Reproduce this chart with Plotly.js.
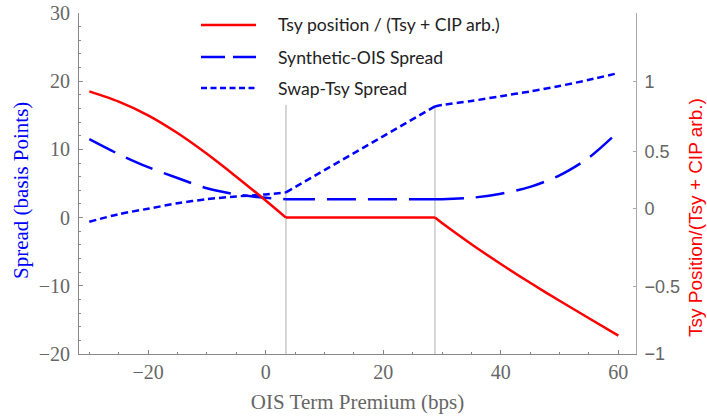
<!DOCTYPE html>
<html><head><meta charset="utf-8">
<script src="https://cdn.plot.ly/plotly-3.0.1.min.js"></script>
<style>html,body{margin:0;padding:0;background:#fff}</style>
</head><body><div id="chart" style="width:707px;height:417px"></div>
<script>
// Series names
const seriesNames = ['Tsy position / (Tsy + CIP arb.)', 'Synthetic-OIS Spread', 'Swap-Tsy Spread'];

// Tsy position / (Tsy + CIP arb.)  (right axis)
const ratioX = [-30, -25, -20, -15, -10, -5, 0, 3.45, 28.8, 30, 35, 40, 45, 50, 55, 60];
const ratioY = [0.925, 0.85, 0.75, 0.62, 0.4675, 0.30, 0.125, 0, 0, -0.04, -0.195, -0.34, -0.478, -0.61, -0.738, -0.865];

// Synthetic-OIS Spread (bps, left axis)
const synthX = [-30, -25, -20, -15, -10, -5, 0, 3.45, 28.8, 30, 35, 40, 45, 50, 55, 60];
const synthY = [11.5, 9.3, 7.4, 5.8, 4.3, 3.4, 2.9, 2.7, 2.7, 2.7, 2.9, 3.5, 4.5, 6.2, 8.8, 12.6];

// Swap-Tsy Spread (bps, left axis)
const swapX = [-30, -25, -20, -15, -10, -5, 0, 3.45, 28.8, 30, 35, 40, 45, 50, 55, 60];
const swapY = [-0.6, 0.5, 1.3, 2.1, 2.7, 3.1, 3.4, 3.7, 16.3, 16.5, 17.1, 17.8, 18.5, 19.3, 20.2, 21.2];

// Regime boundaries (OIS term premium, bps)
const kinkX = [3.45, 28.8];

// Right axis tick labels (as drawn in the source)
const rightTickVals = [-1, -0.505, 0.069, 0.484, 1];
const rightTickText = ['\u22121', '\u22120.5', '0', '0.5', '1'];

const W = 707, H = 417;
const M = {l: 79, r: 71, t: 13, b: 63};
const pw = W - M.l - M.r, ph = H - M.t - M.b;
const px2paperX = p => (p - M.l) / pw;
const px2paperY = p => 1 - (p - M.t) / ph;

// split a series at the regime boundaries so each smooth piece keeps sharp kinks
function splitAtKinks(xs, ys) {
  const segs = [];
  let cur = {x: [], y: []};
  xs.forEach((xv, i) => {
    cur.x.push(xv); cur.y.push(ys[i]);
    if (kinkX.includes(xv) && cur.x.length > 1) {
      segs.push(cur);
      cur = {x: [xv], y: [ys[i]]};
    }
  });
  if (cur.x.length > 1) segs.push(cur);
  return segs;
}

const traces = [];
function addSeries(xs, ys, axis, lineStyle) {
  splitAtKinks(xs, ys).forEach(s => {
    traces.push({x: s.x, y: s.y, mode: 'lines', yaxis: axis, showlegend: false, hoverinfo: 'skip',
      line: Object.assign({shape: s.x.length > 2 ? 'spline' : 'linear', smoothing: 0.8}, lineStyle)});
  });
}
addSeries(synthX, synthY, 'y', {color: '#0000ff', width: 2.5, dash: '29px,12px'});
addSeries(swapX, swapY, 'y', {color: '#0000ff', width: 2.5, dash: '7px,4px'});
addSeries(ratioX, ratioY, 'y2', {color: '#ff0000', width: 2.5});

const legendStyle = [
  {color: '#ff0000', dash: 'solid'},
  {color: '#0000ff', dash: '24px,8px'},
  {color: '#0000ff', dash: '6px,3.5px'}
];
const legendRowsPx = [25, 57, 88];

const shapes = kinkX.map(k => ({
  type: 'line', xref: 'x', yref: 'y', x0: k, x1: k, y0: -20, y1: 16.5,
  line: {color: '#c8c8c8', width: 1.5}, layer: 'below'
}));
const annotations = [];
seriesNames.forEach((nm, i) => {
  const yp = px2paperY(legendRowsPx[i]);
  shapes.push({type: 'line', xref: 'paper', yref: 'paper',
    x0: px2paperX(201), x1: px2paperX(256), y0: yp, y1: yp,
    line: {color: legendStyle[i].color, width: 2.5, dash: legendStyle[i].dash}});
  annotations.push({xref: 'paper', yref: 'paper', x: px2paperX(276), y: yp,
    xanchor: 'left', yanchor: 'middle', showarrow: false, text: nm,
    font: {family: 'Lato', size: 17.6, color: '#222'}});
});
// axis titles
annotations.push({xref: 'paper', yref: 'paper', x: px2paperX(21), y: px2paperY(191),
  xanchor: 'center', yanchor: 'middle', showarrow: false, textangle: -90,
  text: 'Spread (basis Points)', font: {family: 'Liberation Serif', size: 21, color: '#0000ff'}});
annotations.push({xref: 'paper', yref: 'paper', x: px2paperX(695), y: px2paperY(218),
  xanchor: 'center', yanchor: 'middle', showarrow: false, textangle: -90,
  text: 'Tsy Position/(Tsy + CIP arb.)', font: {family: 'Liberation Sans', size: 19, color: '#ff0000'}});

const layout = {
  width: W, height: H,
  margin: M,
  paper_bgcolor: '#fff', plot_bgcolor: '#fff',
  showlegend: false,
  xaxis: {
    range: [-31.75, 63], tick0: 0, dtick: 20,
    ticks: 'inside', ticklen: 4, tickcolor: '#888', tickwidth: 1,
    minor: {tick0: 0, dtick: 5, ticks: 'inside', ticklen: 2, tickcolor: '#888', showgrid: false},
    showline: true, linecolor: '#888', linewidth: 1,
    showgrid: false, zeroline: false,
    tickfont: {family: 'Liberation Serif', size: 20, color: '#666'},
    title: {text: 'OIS Term Premium (bps)', standoff: 12,
      font: {family: 'Liberation Serif', size: 21, color: '#666'}}
  },
  yaxis: {
    range: [-20, 30], tick0: 0, dtick: 10,
    ticks: 'inside', ticklen: 4, tickcolor: '#888', tickwidth: 1,
    minor: {tick0: 0, dtick: 2, ticks: 'inside', ticklen: 2, tickcolor: '#888', showgrid: false},
    showline: true, linecolor: '#888', linewidth: 1,
    showgrid: false, zeroline: false,
    ticklabelstandoff: 4,
    tickfont: {family: 'Liberation Serif', size: 20, color: '#666'}
  },
  yaxis2: {
    overlaying: 'y', side: 'right',
    range: [-1, 1.5],
    tickmode: 'array', tickvals: rightTickVals, ticktext: rightTickText,
    ticks: 'inside', ticklen: 3, tickcolor: '#aaa', tickwidth: 1,
    showline: true, linecolor: '#aaa', linewidth: 1,
    showgrid: false, zeroline: false,
    ticklabelstandoff: 4,
    tickfont: {family: 'Liberation Sans', size: 18, color: '#666'}
  },
  shapes: shapes,
  annotations: annotations
};

Plotly.newPlot('chart', traces, layout, {staticPlot: true, displayModeBar: false});
</script>
</body></html>
